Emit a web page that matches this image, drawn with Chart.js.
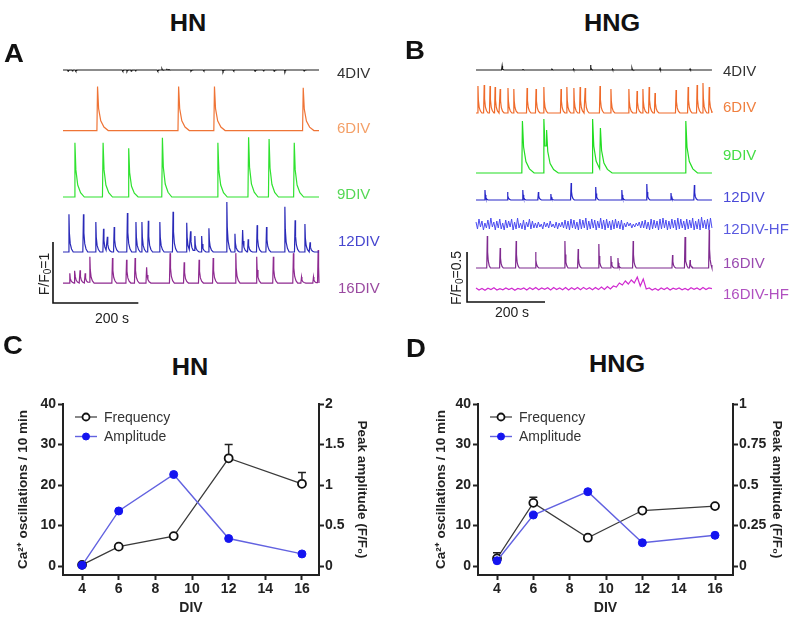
<!DOCTYPE html>
<html>
<head>
<meta charset="utf-8">
<script src="https://cdn.jsdelivr.net/npm/chart.js@4.4.1/dist/chart.umd.min.js"></script>
<style>
  body { margin: 0; background: #fff; }
  #fig { position: relative; width: 800px; height: 618px; overflow: hidden;
         font-family: 'Liberation Sans', Arial, Helvetica, sans-serif; color: #222; }
  #fig canvas { position: absolute; }
  .t { position: absolute; white-space: nowrap; transform: translate(-50%, -50%); }
  .lab { position: absolute; white-space: nowrap; transform: translate(0, -50%); font-size: 15px; }
  .title { font-size: 23px; font-weight: bold; color: #111; transform: translate(-50%, -50%) scaleX(1.1); }
  .panel { font-size: 25px; font-weight: bold; color: #111; transform: translate(-50%, -50%) scaleX(1.1); }
  .bar { font-size: 14px; }
  .rot { transform: translate(-50%, -50%) rotate(-90deg); }
  sub { font-size: 10px; vertical-align: -2px; line-height: 0; }
</style>
</head>
<body>
<div id="fig">
  <canvas id="traceA" width="400" height="290" style="left:0;top:40px"></canvas>
  <canvas id="traceB" width="400" height="290" style="left:400px;top:40px"></canvas>
  <canvas id="chartC" width="400" height="228" style="left:0;top:390px"></canvas>
  <canvas id="chartD" width="400" height="228" style="left:400px;top:390px"></canvas>
</div>
<script>
// ---- panel C / D summary data ----
const divs = [4, 6, 9, 12, 16];
const divTicks = [4, 6, 8, 10, 12, 14, 16];
const freqTicks = [0, 10, 20, 30, 40];
const ampTicksHN = [0, 0.5, 1, 1.5, 2];
const ampTicksHNG = [0, 0.25, 0.5, 0.75, 1];

const freqHN = [0.3, 4.8, 7.4, 26.6, 20.3];
const freqErrHN = [0, 0, 0, 3.4, 2.8];
const ampHN = [0.01, 0.68, 1.13, 0.34, 0.15];

const freqHNG = [1.9, 15.6, 7.0, 13.7, 14.8];
const freqErrHNG = [1.4, 1.4, 0, 0, 0];
const ampHNG = [0.033, 0.315, 0.459, 0.144, 0.19];

// ---- panel A traces (spike times in s, peak heights in F/F0) ----
const a4Times = [12, 22, 30, 140, 150, 160, 170, 222, 232, 243, 248, 300, 330, 375, 400, 450, 470, 495, 520, 565];
const a4Heights = [-0.02, -0.015, -0.02, -0.02, -0.015, -0.02, -0.015, -0.02, 0.015, 0.02, 0.015, -0.01, -0.015, -0.02, -0.015, -0.02, -0.015, -0.02, -0.02, -0.015];
const a6Times = [81, 271, 355, 563];
const a6Heights = [0.72, 0.72, 0.72, 0.7];
const a9Times = [28, 94, 154, 233, 363, 435, 483, 542];
const a9Heights = [0.89, 0.89, 0.8, 0.97, 0.89, 0.98, 0.95, 0.89];
const a12Times = [14, 48, 77, 95, 104, 120, 151, 171, 185, 200, 227, 258, 290, 299, 309, 325, 342, 384, 403, 421, 434, 455, 477, 520, 544, 567, 579];
const a12Heights = [0.62, 0.62, 0.49, 0.38, 0.25, 0.41, 0.64, 0.49, 0.49, 0.51, 0.49, 0.66, 0.48, 0.34, 0.26, 0.26, 0.39, 0.82, 0.3, 0.36, 0.21, 0.44, 0.41, 0.74, 0.52, 0.46, 0.16];
const a16Times = [16, 28, 40, 52, 63, 116, 149, 169, 196, 251, 284, 319, 352, 405, 454, 493, 540, 559, 587, 598];
const a16Heights = [0.16, 0.2, 0.21, 0.16, 0.43, 0.41, 0.38, 0.41, 0.26, 0.49, 0.34, 0.38, 0.41, 0.49, 0.43, 0.43, 0.49, 0.1, 0.1, 0.54];

// ---- panel B traces ----
const b4Times = [67, 120, 194, 250, 294, 350, 400, 472, 549];
const b4Heights = [0.04, 0.01, 0.015, 0.01, 0.05, 0.01, 0.015, 0.015, 0.01];
const b6Times = [5, 21, 36, 49, 62, 82, 97, 131, 154, 174, 218, 233, 251, 267, 280, 318, 346, 392, 413, 428, 444, 459, 513, 544, 567, 582, 598];
const b6Heights = [0.27, 0.28, 0.27, 0.26, 0.24, 0.25, 0.24, 0.25, 0.24, 0.26, 0.24, 0.26, 0.25, 0.26, 0.25, 0.27, 0.24, 0.24, 0.22, 0.24, 0.26, 0.2, 0.23, 0.26, 0.28, 0.3, 0.26];
const b9Times = [119, 174, 181, 299, 319, 538];
const b9Heights = [0.52, 0.54, 0.43, 0.54, 0.45, 0.52];
const b12Times = [23, 81, 120, 160, 192, 244, 307, 374, 438, 500, 560];
const b12Heights = [0.1, 0.08, 0.1, 0.08, 0.06, 0.17, 0.13, 0.1, 0.16, 0.07, 0.15];
const b12hf = [
  0.03, -0.04, 0.06, -0.02, 0.04, -0.05, 0.02, -0.03, 0.05, -0.04, 0.07, -0.02, 0.03, -0.05, 0.04, -0.03, 0.06, -0.04, 0.02, -0.05,
  0.05, -0.03, 0.04, -0.02, 0.06, -0.05, 0.03, -0.04, 0.07, -0.03, 0.02, -0.04, 0.05, -0.05, 0.03, -0.02, 0.06, -0.04, 0.04, -0.03,
  0.02, -0.03, 0.03, -0.02, 0.01, -0.04, 0.03, -0.02, 0.02, -0.03, 0.04, -0.02, 0.01, -0.03, 0.03, -0.04, 0.02, -0.02, 0.03, -0.03,
  0.05, -0.04, 0.04, -0.05, 0.06, -0.03, 0.05, -0.04, 0.03, -0.05, 0.06, -0.04, 0.05, -0.03, 0.07, -0.05, 0.04, -0.04, 0.06, -0.03,
  0.05, -0.05, 0.04, -0.03, 0.07, -0.04, 0.05, -0.05, 0.06, -0.03, 0.04, -0.05, 0.05, -0.04, 0.06, -0.03, 0.04, -0.04, 0.05, -0.05,
  0.02, -0.02, 0.03, -0.01, 0.02, -0.03, 0.01, -0.02, 0.02, -0.01, 0.03, -0.03, 0.04, -0.03, 0.05, -0.04, 0.03, -0.05, 0.06, -0.04,
  0.05, -0.03, 0.04, -0.05, 0.06, -0.04, 0.07, -0.03, 0.05, -0.05, 0.04, -0.04, 0.06, -0.03, 0.05, -0.05, 0.07, -0.04, 0.06, -0.03,
  0.04, -0.05, 0.06, -0.04, 0.05, -0.03, 0.07, -0.05, 0.04, -0.04, 0.06, -0.05, 0.08, -0.03, 0.05, -0.04, 0.06, -0.05, 0.07, -0.03];
const b16Times = [29, 62, 103, 153, 228, 262, 315, 346, 364, 403, 504, 536, 549, 598];
const b16Heights = [0.32, 0.2, 0.27, 0.16, 0.27, 0.19, 0.24, 0.12, 0.1, 0.27, 0.13, 0.31, 0.08, 0.38];
const b16hf = [0.01, -0.01, 0.005, -0.012, 0.008, -0.005, 0.012, -0.01, 0.004, -0.008, 0.01, -0.006, 0.008, -0.012, 0.006, -0.004,
  0.01, -0.01, 0.012, -0.006, 0.015, -0.008, 0.01, -0.004, 0.012, -0.01, 0.014, -0.006, 0.01, -0.008, 0.015, -0.01, 0.012, -0.006,
  0.014, -0.008, 0.016, -0.004, 0.012, -0.008, 0.015, -0.006, 0.02, -0.004, 0.025, 0.0, 0.03, 0.02, 0.06, 0.04, 0.08, 0.05, 0.09,
  0.06, 0.12, 0.03, 0.1, 0.0, 0.01, -0.01, 0.005, -0.012, 0.01, -0.006, 0.012, -0.01, 0.008, -0.004, 0.01, -0.008, 0.006, -0.01,
  0.012, -0.004, 0.01, -0.008, 0.014, -0.006, 0.01, 0.004];

// scale bars, in trace units (s, F/F0)
const barA = [[-23.4, 1.443], [-23.4, 0.443], [176.6, 0.443]];
const barB = [[-23, 0.78], [-23, 0.28], [177, 0.28]];

const FONT = "'Liberation Sans', Arial, Helvetica, sans-serif";
Chart.defaults.font.family = FONT;
Chart.defaults.color = '#222';

// fast rise, then decay back to baseline
const DECAY = [[0.1, 0.5], [0.3, 0.22], [0.6, 0.08], [1, 0]];
function spikeTrace(times, heights, base, tEnd, decay) {
  const pts = [{x: 0, y: base}];
  let lastY = base;
  times.forEach((t, i) => {
    const h = heights[i];
    const stop = i + 1 < times.length ? times[i + 1] - 1.5 : tEnd;
    const prevX = pts[pts.length - 1].x;
    pts.push({x: Math.max(t - 1.5, prevX + 0.1), y: lastY});
    pts.push({x: t, y: base + h});
    lastY = base + h;
    DECAY.forEach(([f, a]) => {
      const x = t + decay * f;
      if (x < stop) { pts.push({x: x, y: base + h * a}); lastY = base + h * a; }
    });
  });
  pts.push({x: tEnd, y: base});
  return pts;
}
function sampled(vals, base, tEnd) {
  return vals.map((v, i) => ({x: i * tEnd / (vals.length - 1), y: base + v}));
}
function line(pts, color, w) {
  return {data: pts, borderColor: color, borderWidth: w || 1.2, pointRadius: 0, fill: false, tension: 0};
}

function traceChart(id, sets, xr, yr) {
  return new Chart(document.getElementById(id), {
    type: 'line',
    data: {datasets: sets},
    options: {
      responsive: false, animation: false,
      layout: {padding: 0},
      plugins: {legend: {display: false}, tooltip: {enabled: false}},
      scales: {
        x: {type: 'linear', display: false, min: xr[0], max: xr[1]},
        y: {type: 'linear', display: false, min: yr[0], max: yr[1]}
      }
    }
  });
}

traceChart('traceA', [
  line(spikeTrace(a4Times, a4Heights, 4.262, 600, 4), '#1a1a1a'),
  line(spikeTrace(a6Times, a6Heights, 3.27, 600, 25), '#ef7436'),
  line(spikeTrace(a9Times, a9Heights, 2.18, 600, 22), '#2fe22f'),
  line(spikeTrace(a12Times, a12Heights, 1.279, 600, 10), '#2a2ab8'),
  line(spikeTrace(a16Times, a16Heights, 0.77, 600, 10), '#8e2a90'),
  line(barA.map(p => ({x: p[0], y: p[1]})), '#111', 1.6)
], [-147.6, 789.8], [0, 290 / 61]);

traceChart('traceB', [
  line(spikeTrace(b4Times, b4Heights, 2.6, 605, 5), '#1a1a1a'),
  line(spikeTrace(b6Times, b6Heights, 2.17, 605, 10), '#ef6a2a'),
  line(spikeTrace(b9Times, b9Heights, 1.57, 605, 30), '#22dd22'),
  line(spikeTrace(b12Times, b12Heights, 1.3, 605, 8), '#2626c8'),
  line(sampled(b12hf, 1.05, 605), '#4c4cf0', 1),
  line(spikeTrace(b16Times, b16Heights, 0.62, 605, 8), '#7f2a8f'),
  line(sampled(b16hf, 0.41, 605), '#d02ad0'),
  line(barB.map(p => ({x: p[0], y: p[1]})), '#111', 1.6)
], [-194.9, 830.8], [0, 2.9]);

// ---- summary charts ----
const errorBars = {
  id: 'errorBars',
  afterDatasetsDraw(chart, args, opts) {
    const ctx = chart.ctx;
    const meta = chart.getDatasetMeta(0);
    const ys = chart.scales.y;
    ctx.save();
    ctx.strokeStyle = '#222';
    ctx.lineWidth = 1.5;
    opts.err.forEach((e, i) => {
      if (!e) return;
      const pt = meta.data[i];
      const top = ys.getPixelForValue(opts.values[i] + e);
      ctx.beginPath();
      ctx.moveTo(pt.x, pt.y - 4);
      ctx.lineTo(pt.x, top);
      ctx.moveTo(pt.x - 4, top);
      ctx.lineTo(pt.x + 4, top);
      ctx.stroke();
    });
    ctx.restore();
  }
};

const inLegend = {
  id: 'inLegend',
  afterDraw(chart) {
    const ctx = chart.ctx, area = chart.chartArea;
    ctx.save();
    chart.data.datasets.forEach((ds, i) => {
      const y = area.top + 13 + i * 19.5;
      const x0 = area.left + 12, x1 = x0 + 22;
      ctx.strokeStyle = ds.borderColor;
      ctx.lineWidth = ds.borderWidth;
      ctx.beginPath(); ctx.moveTo(x0, y); ctx.lineTo(x1, y); ctx.stroke();
      ctx.beginPath(); ctx.arc((x0 + x1) / 2, y, 3.5, 0, Math.PI * 2);
      ctx.fillStyle = ds.pointBackgroundColor; ctx.fill();
      ctx.strokeStyle = ds.pointBorderColor; ctx.lineWidth = ds.pointBorderWidth; ctx.stroke();
      ctx.fillStyle = '#333';
      ctx.font = '14px ' + FONT;
      ctx.textBaseline = 'middle';
      ctx.fillText(ds.label, x1 + 7, y + 1);
    });
    ctx.restore();
  }
};

function axisStyle() {
  return {
    border: {display: true, color: '#222', width: 2},
    grid: {drawOnChartArea: false, drawTicks: true, tickLength: 5, tickWidth: 2, tickColor: '#222'},
  };
}

function summaryChart(id, freq, err, amp, ampTicks, opt) {
  const ampMax = ampTicks[ampTicks.length - 1];
  return new Chart(document.getElementById(id), {
    type: 'line',
    data: {
      datasets: [
        {label: 'Frequency', data: divs.map((d, i) => ({x: d, y: freq[i]})), yAxisID: 'y', order: 1,
         borderColor: '#3a3a3a', borderWidth: 1.2, pointRadius: 4, pointBorderWidth: 1.8,
         pointBackgroundColor: '#fff', pointBorderColor: '#111', tension: 0, clip: false},
        {label: 'Amplitude', data: divs.map((d, i) => ({x: d, y: amp[i]})), yAxisID: 'y1', order: 0,
         borderColor: '#6262e0', borderWidth: 1.4, pointRadius: 4, pointBorderWidth: 1,
         pointBackgroundColor: '#1414f0', pointBorderColor: '#1414f0', tension: 0, clip: false}
      ]
    },
    options: {
      responsive: false, animation: false,
      layout: {padding: {top: 14, left: 0, right: 0, bottom: 0}},
      plugins: {
        legend: {display: false}, tooltip: {enabled: false},
        errorBars: {err: err, values: freq}
      },
      scales: {
        x: Object.assign(axisStyle(), {
          type: 'linear', min: opt.xMin, max: opt.xMax,
          afterBuildTicks: s => { s.ticks = divTicks.map(v => ({value: v})); },
          afterFit: s => { s.height = 43; },
          ticks: {font: {size: 14, weight: 'bold'}, padding: 1, maxRotation: 0, autoSkip: false},
          title: {display: true, text: 'DIV', font: {size: 14, weight: 'bold'}, padding: {top: 0, bottom: 1}}
        }),
        y: Object.assign(axisStyle(), {
          type: 'linear', position: 'left', min: -2.2, max: 40,
          afterBuildTicks: s => { s.ticks = freqTicks.map(v => ({value: v})); },
          afterFit: s => { s.width = opt.leftW; },
          ticks: {font: {size: 14, weight: 'bold'}, padding: 2},
          title: {display: true, text: 'Ca²⁺ oscillations / 10 min', font: {size: 13.5, weight: 'bold'},
                  padding: {top: opt.leftPad, bottom: 0}}
        }),
        y1: Object.assign(axisStyle(), {
          type: 'linear', position: 'right', min: -2.2 / 40 * ampMax, max: ampMax,
          afterBuildTicks: s => { s.ticks = ampTicks.map(v => ({value: v})); },
          afterFit: s => { s.width = opt.rightW; },
          ticks: {font: {size: 14, weight: 'bold'}, padding: 1, callback: v => String(v)},
          title: {display: true, text: 'Peak amplitude (F/F₀)', font: {size: 13.5, weight: 'bold'},
                  padding: {top: opt.rightPad, bottom: 0}}
        })
      }
    },
    plugins: [errorBars, inLegend]
  });
}

summaryChart('chartC', freqHN, freqErrHN, ampHN, ampTicksHN,
  {xMin: 2.96, xMax: 16.93, leftW: 63, rightW: 81, leftPad: 15, rightPad: 30});
summaryChart('chartD', freqHNG, freqErrHNG, ampHNG, ampTicksHNG,
  {xMin: 2.954, xMax: 16.99, leftW: 78, rightW: 67, leftPad: 33, rightPad: 15});

// ---- text ----
const fig = document.getElementById('fig');
function put(html, x, y, cls, color) {
  const d = document.createElement('div');
  d.className = cls;
  d.style.left = x + 'px';
  d.style.top = y + 'px';
  if (color) d.style.color = color;
  d.innerHTML = html;
  fig.appendChild(d);
}
put('HN', 188, 23, 't title');
put('HNG', 612, 23, 't title');
put('HN', 190, 367, 't title');
put('HNG', 617, 364, 't title');
put('A', 14, 53, 't panel');
put('B', 415, 50, 't panel');
put('C', 13, 345, 't panel');
put('D', 416, 348, 't panel');

put('4DIV', 337, 72, 'lab', '#333');
put('6DIV', 337, 127, 'lab', '#f4a068');
put('9DIV', 337, 193, 'lab', '#55d855');
put('12DIV', 338, 240, 'lab', '#4646cf');
put('16DIV', 338, 287, 'lab', '#9a4aa0');

put('4DIV', 723, 70, 'lab', '#333');
put('6DIV', 723, 106, 'lab', '#f08040');
put('9DIV', 723, 154, 'lab', '#44dd44');
put('12DIV', 723, 196, 'lab', '#4a4ad8');
put('12DIV-HF', 723, 228, 'lab', '#5a5ae0');
put('16DIV', 723, 262, 'lab', '#9a4ab0');
put('16DIV-HF', 723, 293, 'lab', '#b050c0');

put('F/F<sub>0</sub>=1', 44, 274, 't bar rot');
put('200 s', 112, 318, 't bar');
put('F/F<sub>0</sub>=0.5', 456, 278, 't bar rot');
put('200 s', 512, 312, 't bar');
</script>
</body>
</html>
